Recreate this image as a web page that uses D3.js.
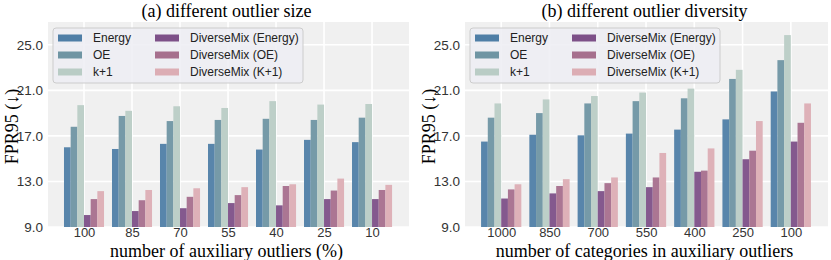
<!DOCTYPE html>
<html>
<head>
<meta charset="utf-8">
<script src="https://cdn.jsdelivr.net/npm/d3@7"></script>
<style>
  body { margin: 0; background: #fff; }
  svg { display: block; }
</style>
</head>
<body>
<svg id="chart" width="831" height="260"></svg>
<script>
"use strict"

// series names (legend order)
const seriesNames = ["Energy", "OE", "k+1", "DiverseMix (Energy)", "DiverseMix (OE)", "DiverseMix (K+1)"];
const seriesColors = ["#4f7ea6", "#6f95a3", "#b9ccc5", "#7d5088", "#a66f8d", "#dcadb4"];
const yTicks = [9, 13, 17, 21, 25];

// (a) different outlier size
const sizeCategories = ["100", "85", "70", "55", "40", "25", "10"];
const sizeEnergy   = [16.0, 15.85, 16.3, 16.3, 15.8, 16.65, 16.45];
const sizeOE       = [17.8, 18.75, 18.3, 18.4, 18.5, 18.4, 18.6];
const sizeK1       = [19.7, 19.2, 19.6, 19.45, 20.05, 19.75, 19.8];
const sizeDmEnergy = [10.05, 10.4, 10.65, 11.1, 10.9, 11.45, 11.45];
const sizeDmOE     = [11.45, 11.35, 11.65, 11.8, 12.6, 12.2, 12.25];
const sizeDmK1     = [12.15, 12.25, 12.4, 12.5, 12.75, 13.25, 12.7];

// (b) different outlier diversity
const divCategories = ["1000", "850", "700", "550", "400", "250", "100"];
const divEnergy   = [16.5, 17.1, 17.05, 17.2, 17.55, 18.45, 20.9];
const divOE       = [18.6, 19.0, 19.85, 20.05, 20.3, 22.0, 23.65];
const divK1       = [19.85, 20.2, 20.5, 20.8, 21.15, 22.8, 25.85];
const divDmEnergy = [11.5, 11.95, 12.15, 12.5, 13.85, 14.95, 16.5];
const divDmOE     = [12.3, 12.6, 12.85, 13.35, 13.95, 15.7, 18.15];
const divDmK1     = [12.75, 13.2, 13.35, 15.5, 15.9, 18.3, 19.85];

const panels = [
  {title: "(a) different outlier size", xlabel: "number of auxiliary outliers (%)",
   categories: sizeCategories,
   series: [sizeEnergy, sizeOE, sizeK1, sizeDmEnergy, sizeDmOE, sizeDmK1],
   left: 48, right: 409},
  {title: "(b) different outlier diversity", xlabel: "number of categories in auxiliary outliers",
   categories: divCategories,
   series: [divEnergy, divOE, divK1, divDmEnergy, divDmOE, divDmK1],
   left: 465, right: 828}
];

const plotTop = 22, plotBottom = 227;
const barW = 0.139;
const svg = d3.select("#chart");

panels.forEach((p) => {
  let g = svg.append("g");
  let x = d3.scaleLinear().domain([-0.75, 6.77]).range([p.left, p.right]);
  let y = d3.scaleLinear().domain([9, 27]).range([plotBottom, plotTop]);

  // background
  g.append("rect")
    .attr("x", p.left).attr("y", plotTop)
    .attr("width", p.right - p.left).attr("height", plotBottom - plotTop)
    .attr("fill", "#f0f0f0");

  // grid
  (g.selectAll("line.hgrid")
    .data(yTicks)
    .enter()
      .append("line")
        .attr("x1", p.left).attr("x2", p.right)
        .attr("y1", (d) => y(d)).attr("y2", (d) => y(d))
        .attr("stroke", "#fff").attr("stroke-width", 1.6));
  (g.selectAll("line.vgrid")
    .data(p.categories)
    .enter()
      .append("line")
        .attr("x1", (d, i) => x(i)).attr("x2", (d, i) => x(i))
        .attr("y1", plotTop).attr("y2", plotBottom)
        .attr("stroke", "#fff").attr("stroke-width", 1.6));

  // bars
  p.series.forEach((vals, j) => {
    (g.selectAll("rect.s" + j)
      .data(vals)
      .enter()
        .append("rect")
          .attr("x", (d, i) => x(i + (j - 3) * barW))
          .attr("width", x(barW) - x(0))
          .attr("y", (d) => y(d))
          .attr("height", (d) => y(9) - y(d))
          .attr("fill", seriesColors[j])
          .attr("fill-opacity", 0.95));
  });

  // axes
  let yAxis = d3.axisLeft(y).tickValues(yTicks).tickFormat(d3.format(".1f")).tickSize(0).tickPadding(5);
  let ya = g.append("g").attr("transform", `translate(${p.left},0)`).call(yAxis);
  let xAxis = d3.axisBottom(x).tickValues(d3.range(7)).tickFormat((d) => p.categories[d]).tickSize(0).tickPadding(1);
  let xa = g.append("g").attr("transform", `translate(0,${plotBottom})`).call(xAxis);
  [ya, xa].forEach((a) => {
    a.select(".domain").remove();
    a.selectAll("text")
      .attr("fill", "#333")
      .style("font-family", "'Liberation Sans', Arial, sans-serif")
      .style("font-size", "13.5px");
  });
  xa.selectAll("text").style("font-size", "13px");

  let mid = (p.left + p.right) / 2;
  g.append("text")
    .attr("x", mid - 2).attr("y", 17)
    .attr("text-anchor", "middle")
    .style("font-family", "'Liberation Serif', 'Times New Roman', serif")
    .style("font-size", "18px")
    .text(p.title);
  g.append("text")
    .attr("x", mid - 2).attr("y", 256.5)
    .attr("text-anchor", "middle")
    .style("font-family", "'Liberation Serif', 'Times New Roman', serif")
    .style("font-size", "18px")
    .text(p.xlabel);
  g.append("text")
    .attr("transform", `translate(${p.left - 30},${(plotTop + plotBottom) / 2 + 2}) rotate(-90)`)
    .attr("text-anchor", "middle")
    .style("font-family", "'Liberation Serif', 'Times New Roman', serif")
    .style("font-size", "18px")
    .text("FPR95 (↓)");

  // legend
  let lx = p.left + 5, ly = 28;
  let lg = g.append("g").attr("transform", `translate(${lx},${ly})`);
  lg.append("rect")
    .attr("width", 250).attr("height", 55).attr("rx", 3)
    .attr("fill", "#ededf3").attr("fill-opacity", 0.85)
    .attr("stroke", "#cccccc").attr("stroke-width", 1);
  (lg.selectAll("g.item")
    .data(seriesNames)
    .enter()
      .append("g")
        .attr("transform", (d, i) => `translate(${i < 3 ? 5 : 102},${10 + (i % 3) * 17})`)
        .each(function(d, i) {
          let it = d3.select(this);
          it.append("rect")
            .attr("x", 0).attr("y", -3.5).attr("width", 24).attr("height", 7)
            .attr("fill", seriesColors[i]);
          it.append("text")
            .attr("x", 35).attr("y", 4)
            .attr("fill", "#222")
            .style("font-family", "'Liberation Sans', Arial, sans-serif")
            .style("font-size", "12px")
            .text(d);
        }));
});
</script>
</body>
</html>
